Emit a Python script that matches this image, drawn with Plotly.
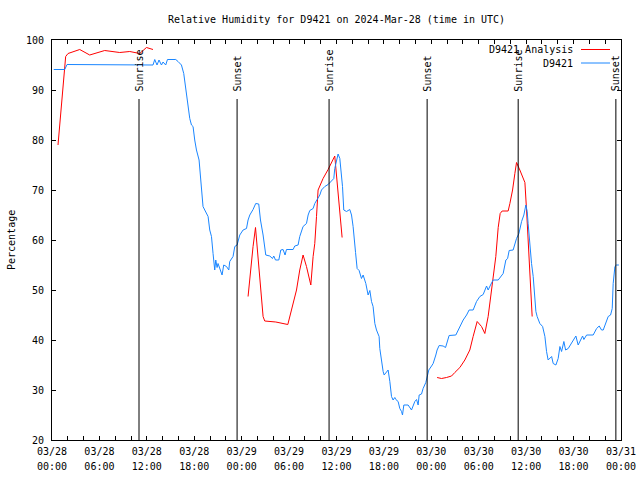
import pandas as pd
import plotly.graph_objects as go

START = pd.Timestamp("2024-03-28 00:00")

# Analysis (red) – hours since 2024-03-28 00:00 UTC, relative humidity %
analysis_hours = [0.76, 1.06, 1.27, 1.52, 1.73, 2.03, 3.51, 4.77, 6.67, 8.57, 9.84, 11.1, 11.95, 12.78,
                  None,
                  24.81, 25.11, 25.44, 25.75, 26.08, 26.42, 26.71, 26.92, 28.32, 29.84, 30.30, 30.94,
                  31.35, 31.77, 32.20, 32.75, 33.04, 33.25, 33.47, 33.67, 34.30, 34.94, 35.78, 36.0,
                  36.33, 36.71,
                  None,
                  48.73, 49.29, 49.92, 50.56, 50.97, 51.61, 52.24, 52.87, 53.29, 53.80, 54.35, 54.77,
                  55.19, 55.53, 55.82, 56.16, 56.46, 56.71, 56.96, 57.72, 57.94, 58.28, 58.57, 58.78,
                  59.20, 59.62, 59.84, 60.05, 60.25, 60.47, 60.76]
analysis_rh = [79, 84.7, 87, 93.3, 96.7, 97.3, 98.1, 97, 97.9, 97.5, 97.7, 97.3, 98.5, 98.1,
               None,
               48.7, 53.7, 58.7, 62.5, 56.7, 49.3, 44.7, 43.8, 43.6, 43.1, 46, 50,
               54, 57, 54.7, 51, 56.7, 59.3, 64.7, 70, 72.3, 74.1, 76.8, 73.3,
               66.7, 60.5,
               None,
               32.5, 32.3, 32.5, 32.8, 33.5, 34.5, 36, 38, 40.7, 43.7, 42.7, 41.3,
               44.7, 49, 52, 56.7, 62.5, 65.3, 65.8, 65.8, 67.3, 70, 73.3, 75.5,
               74, 72.3, 71.5, 66, 60, 53.3, 44.7]

# Observations (blue)
obs_hours = [0.22, 1.61, 1.90, 12.78, 13.0, 13.29, 13.54, 13.85, 14.05, 14.39, 14.61, 15.66, 15.95,
             16.38, 16.67, 16.89, 17.01, 17.22, 17.43, 17.65, 17.85, 18.06, 18.28, 18.61, 18.70,
             18.91, 19.11, 19.33, 19.54, 19.75, 19.96, 20.18, 20.38, 20.59, 20.72, 20.89, 21.01,
             21.23, 21.52, 21.73, 22.08, 22.37, 22.49, 22.91, 23.13, 23.42, 23.76, 24.18, 24.61,
             24.81, 25.03, 25.44, 25.78, 26.16, 26.38, 26.71, 26.92, 27.05, 27.56, 27.90, 28.06,
             28.28, 28.70, 28.95, 29.24, 29.49, 29.67, 30.51, 30.72, 31.14, 31.35, 31.57, 31.77,
             32.20, 32.41, 32.62, 33.04, 33.25, 33.54, 33.89, 34.10, 34.52, 34.94, 35.37, 35.66,
             35.78, 36.0, 36.20, 36.42, 36.63, 36.76, 36.92, 37.27, 37.68, 37.90, 38.10, 38.23,
             38.41, 38.61, 38.86, 39.16, 39.37, 39.71, 40.0, 40.22, 40.43, 40.63, 40.85, 41.06,
             41.39, 41.48, 41.70, 41.90, 42.03, 42.53, 42.75, 42.96, 43.16, 43.38, 43.51, 43.80,
             44.01, 44.23, 44.35, 44.52, 45.06, 45.49, 45.91, 46.13, 46.33, 46.46, 46.76, 46.96,
             47.30, 47.47, 47.68, 48.03, 48.23, 48.57, 48.73, 48.99, 49.49, 49.80, 50.13, 50.25,
             51.10, 51.39, 51.82, 52.03, 52.46, 52.78, 53.29, 53.72, 54.14, 54.56, 54.99, 55.19,
             55.49, 55.82, 56.46, 56.89, 57.09, 57.43, 57.65, 57.85, 58.35, 58.78, 59.08, 59.42,
             59.71, 59.96, 60.13, 60.25, 60.47, 60.68, 60.89, 61.11, 61.23, 61.39, 61.73, 62.08,
             62.37, 62.58, 62.78, 63.22, 63.42, 63.76, 64.05, 64.27, 64.48, 64.77, 64.99, 65.32,
             65.75, 66.04, 66.29, 66.58, 66.80, 67.14, 67.30, 67.65, 68.48, 68.91, 69.24, 69.54,
             69.75, 69.96, 70.38, 70.68, 70.89, 71.01, 71.23, 71.44, 71.73]
obs_rh = [94.1, 94.1, 95.1, 95, 96.1, 95, 96, 95, 95.6, 95, 96.1, 96.1, 95.7,
          95, 93.3, 90.7, 88.7, 86.7, 84.3, 83, 82.7, 80, 78, 76, 74,
          69.3, 66.7, 66, 65.3, 64.7, 62, 60.7, 57.3, 54, 56, 54.5, 55.3,
          54.3, 53, 55, 54.7, 54, 55.7, 56.7, 58.7, 59, 61, 62, 62.3,
          64, 65, 66.1, 67.3, 67.2, 64, 61, 58, 57, 56.8, 56.3, 56.8,
          56, 56, 58, 58.1, 57, 58.1, 58.1, 58.8, 59, 60.7, 61.7, 62.7,
          63.3, 65, 65.9, 66.3, 67.3, 68.1, 69, 70, 70.7, 71.1, 71.8, 72.3,
          74.3, 76, 77.2, 76.3, 73.3, 70.7, 66, 65.7, 66.1, 65, 62.7, 60,
          57.5, 54.3, 53.9, 52.3, 53, 51.3, 49, 49.9, 47.7, 46.7, 43.3, 42,
          40.7, 38.3, 35.3, 33.7, 33, 34, 31.7, 28.7, 28, 28.5, 28.1, 27.7,
          26.3, 25.7, 25, 27, 27, 26, 27.7, 28.1, 27, 29, 29.2, 30.3,
          31.5, 32.7, 34, 34.8, 35.3, 37, 38, 38.9, 38.8, 38.5, 40, 40.9,
          41, 42, 43.3, 44, 45, 46, 46, 47.7, 48.7, 49.1, 50.8, 50,
          51, 52, 52, 53, 53.3, 56, 56.3, 57.9, 58, 60.3, 61.3, 63.7,
          65, 67, 65.7, 63.3, 58.7, 55.3, 52.7, 49, 45.7, 44.7, 43.3, 42.7,
          40.7, 37.7, 36, 36.7, 35.3, 35, 36.3, 38.7, 37.7, 39.7, 38, 38.3,
          39.3, 40.1, 40.8, 39, 39.7, 40.8, 40.1, 41, 41, 42.3, 42.8, 42,
          42, 43, 44.7, 45, 46.3, 51.3, 54.7, 55, 55]

# Sun events (hours since start)
sun_hours = [11.01, 23.42, 35.06, 47.47, 58.99, 71.35]
sun_labels = ["Sunrise", "Sunset", "Sunrise", "Sunset", "Sunrise", "Sunset"]

tick_hours = [0, 6, 12, 18, 24, 30, 36, 42, 48, 54, 60, 66, 72]
tick_dates = ["03/28", "03/28", "03/28", "03/28", "03/29", "03/29", "03/29", "03/29",
              "03/30", "03/30", "03/30", "03/30", "03/31"]
tick_times = ["00:00", "06:00", "12:00", "18:00", "00:00", "06:00", "12:00", "18:00",
              "00:00", "06:00", "12:00", "18:00", "00:00"]

series_names = ["D9421 Analysis", "D9421"]
series_colors = ["#ff0000", "#1a86ff"]


def to_time(hours):
    return [None if h is None else START + pd.Timedelta(hours=h) for h in hours]


FONT = "DejaVu Sans Mono"
fig = go.Figure()
fig.add_trace(go.Scatter(x=to_time(analysis_hours), y=analysis_rh, mode="lines",
                         line=dict(color=series_colors[0], width=1), connectgaps=False,
                         name=series_names[0], showlegend=False))
fig.add_trace(go.Scatter(x=to_time(obs_hours), y=obs_rh, mode="lines",
                         line=dict(color=series_colors[1], width=1),
                         name=series_names[1], showlegend=False))

tvals = to_time(tick_hours)
xrange_ = [START, START + pd.Timedelta(hours=72)]

for t, lab in zip(to_time(sun_hours), sun_labels):
    fig.add_shape(type="line", x0=t, x1=t, y0=20, y1=88.2, xref="x", yref="y",
                  line=dict(color="black", width=1))
    fig.add_annotation(x=t, y=89.3, xref="x", yref="y", text=lab, textangle=-90,
                       showarrow=False, xanchor="center", yanchor="bottom",
                       font=dict(family=FONT, size=10, color="black"))

# Legend drawn gnuplot-style (text then sample line)
for i, (nm, col) in enumerate(zip(series_names, series_colors)):
    ypx = 49.5 + i * 13.5
    yp = 1 - (ypx - 40) / 400
    fig.add_annotation(x=(575 - 52) / 569, y=yp, xref="paper", yref="paper", text=nm,
                       showarrow=False, xanchor="right", yanchor="middle",
                       font=dict(family=FONT, size=10, color="black"))
    fig.add_shape(type="line", xref="paper", yref="paper",
                  x0=(581 - 52) / 569, x1=(610 - 52) / 569, y0=yp, y1=yp,
                  line=dict(color=col, width=1))

fig.add_annotation(x=-41 / 569, y=0.5, xref="paper", yref="paper", text="Percentage",
                   textangle=-90, showarrow=False, xanchor="center", yanchor="middle",
                   font=dict(family=FONT, size=10, color="black"))

fig.update_layout(
    width=640, height=480,
    margin=dict(l=52, r=19, t=40, b=40, autoexpand=False),
    paper_bgcolor="white", plot_bgcolor="white",
    font=dict(family=FONT, size=10, color="black"),
    title=dict(text="Relative Humidity for D9421 on 2024-Mar-28 (time in UTC)",
               x=0.5, xref="paper", y=1 - 19 / 480, yref="container",
               xanchor="center", yanchor="middle",
               font=dict(family=FONT, size=10, color="black")),
    xaxis=dict(type="date", range=xrange_, tickmode="array", tickvals=tvals, ticktext=tick_dates,
               ticks="inside", ticklen=4, tickcolor="black", showline=True, linecolor="black",
               linewidth=1, mirror="ticks", showgrid=False, zeroline=False, automargin=False,
               ticklabelstandoff=2,
               minor=dict(dtick=7200000, tick0=START, ticks="inside", ticklen=4,
                          tickcolor="black", showgrid=False)),
    xaxis2=dict(type="date", range=xrange_, overlaying="x", anchor="y", side="bottom",
                tickmode="array", tickvals=tvals, ticktext=tick_times, ticks="",
                showline=False, showgrid=False, zeroline=False, automargin=False,
                ticklabelstandoff=19),
    yaxis=dict(range=[20, 100], dtick=10, tick0=20, ticks="inside", ticklen=4, tickcolor="black",
               showline=True, linecolor="black", linewidth=1, mirror="ticks", automargin=False,
               showgrid=False, zeroline=False, ticklabelstandoff=5),
)
# invisible trace so xaxis2 is rendered
fig.add_trace(go.Scatter(x=[tvals[0]], y=[None], xaxis="x2", yaxis="y", showlegend=False,
                         hoverinfo="skip", mode="lines"))

fig.write_html("out.html", config={"displayModeBar": False},
               post_script="document.body.style.margin='0';document.body.style.padding='0';")
